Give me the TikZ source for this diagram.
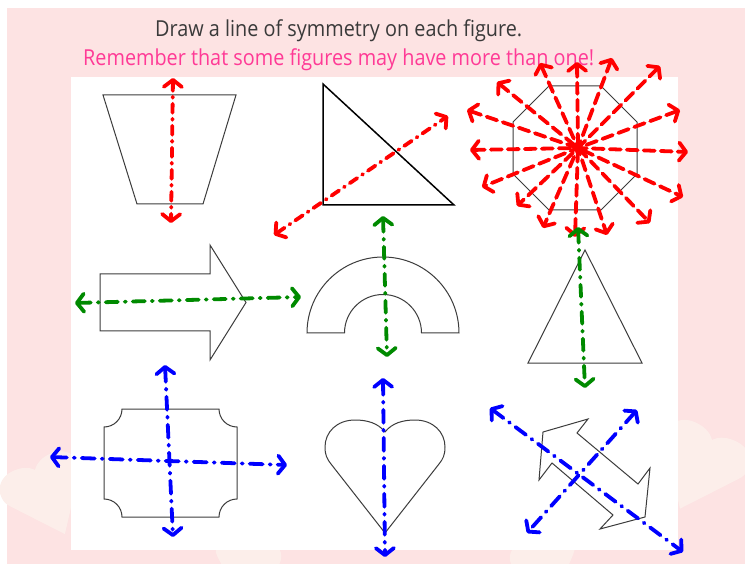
\documentclass[tikz,border=0pt]{standalone}
\usepackage{graphicx}
\usepackage{fontspec}
\setmainfont{Open Sans}
\usetikzlibrary{arrows.meta}
\definecolor{bgpink}{HTML}{FDE3E3}
\definecolor{bgheart}{HTML}{FCEEEA}
\definecolor{titlegray}{HTML}{3A3A3A}
\definecolor{hotpink}{HTML}{FF3A96}
\definecolor{figline}{HTML}{3C3C3C}
\definecolor{symred}{HTML}{FF0000}
\definecolor{symgreen}{HTML}{008A00}
\definecolor{symblue}{HTML}{0000FF}
\tikzset{
  figshape/.style={draw=figline, line width=1pt, line join=miter},
  symline/.style={line width=3.8pt, line cap=round, line join=round,
    >={Straight Barb[round,length=7pt,width=18pt]}, <->},
  redsym/.style={symline, draw=symred, dash pattern=on 9pt off 6pt on 1pt off 6pt},
  greensym/.style={symline, draw=symgreen, dash pattern=on 12pt off 7pt on 1pt off 7pt},
  bluesym/.style={symline, draw=symblue, dash pattern=on 13pt off 7pt on 1pt off 7pt},
  heartpic/.pic={
    \path[pic actions] (0,0) .. controls (-7,-9) and (-18,-12) .. (-30,-12)
      .. controls (-48,-12) and (-60,0) .. (-60,15)
      .. controls (-60,23) and (-58,27) .. (-54,32) -- (0,101) -- (54,32)
      .. controls (58,27) and (60,23) .. (60,15)
      .. controls (60,0) and (48,-12) .. (30,-12)
      .. controls (18,-12) and (7,-9) .. (0,0) -- cycle;
  }
}
\begin{document}
\begin{tikzpicture}[x=1pt,y=-1pt]
\useasboundingbox (0,0) rectangle (745,564);
% backgrounds
\fill[bgpink] (7,8) rectangle (745,564);
\pic[fill=bgheart, scale=0.75, rotate=-25] at (712,440) {heartpic};
\pic[fill=bgheart, scale=0.7, rotate=25] at (35,470) {heartpic};
\pic[fill=bgheart, scale=0.55, rotate=-10] at (250,545) {heartpic};
\pic[fill=bgheart, scale=0.55, rotate=15] at (540,545) {heartpic};
\fill[white] (71,77) rectangle (678,550);
% texts
\node[anchor=base west, text=titlegray, inner sep=0pt] (title) at (155,36.7)
  {\resizebox{367pt}{\height}{\fontsize{22pt}{26pt}\selectfont Draw a line of symmetry on each figure.}};
\node[anchor=base west, text=hotpink, inner sep=0pt] (remark) at (83,65.7)
  {\resizebox{511pt}{\height}{\fontsize{22pt}{26pt}\selectfont Remember that some figures may have more than one!}};
% figure 1: trapezoid
\draw[figshape] (103,95) -- (236,95) -- (203,204) -- (137,204) -- cycle;
% figure 2: right triangle
\draw[draw=black, line width=1.5pt, line join=miter] (323,84) -- (454,205) -- (323,205) -- cycle;
% figure 3: octagon
\draw[figshape] (549,86) -- (601,86) -- (637,122) -- (637,174) -- (601,210) -- (549,210) -- (513,174) -- (513,122) -- cycle;
% figure 4: arrow
\draw[figshape] (100,274) -- (210,274) -- (210,245) -- (246,302.5) -- (210,360) -- (210,331) -- (100,331) -- cycle;
% figure 5: arch
\draw[figshape] (307,333) arc[start angle=180, end angle=360, radius=76] -- (421.5,333)
  arc[start angle=0, end angle=-180, radius=38.5] -- cycle;
% figure 6: isosceles triangle
\draw[figshape] (585,250) -- (642,363) -- (528,363) -- cycle;
% figure 7: notched rectangle
\draw[figshape] (122,409) -- (219,409) arc[start angle=180, end angle=90, radius=18]
  -- (237,499) arc[start angle=-90, end angle=-180, radius=18]
  -- (122,517) arc[start angle=0, end angle=-90, radius=18]
  -- (104,427) arc[start angle=90, end angle=0, radius=18] -- cycle;
% figure 8: heart
\pic[figshape] at (385,432) {heartpic};
% figure 9: double arrow
\draw[figshape] (543,432) -- (588,419) -- (577,433) -- (638,484) -- (650,468) -- (645,517)
  -- (600,529) -- (613,515) -- (552,463) -- (539,480) -- cycle;
% symmetry lines: red
\coordinate (r1a) at (173,78); \coordinate (r1b) at (171,223);
\draw[redsym] (r1a) -- (r1b);
\coordinate (r2a) at (274,235); \coordinate (r2b) at (448,116);
\draw[redsym] (r2a) -- (r2b);
\coordinate (oc) at (578,148);
\foreach \ax/\ay/\bx/\by [count=\i] in {540/63/607/235, 577/62/575/237, 612/58/543/228,
  660/66/517/206, 497/82/650/223, 467/110/683/197, 680/110/482/187, 470/150/688/152}{
  \coordinate (oa\i) at (\ax,\ay); \coordinate (ob\i) at (\bx,\by);
  \draw[redsym, dash pattern=on 11pt off 6pt] (oa\i) -- (oc) -- (ob\i);
}
% green
\coordinate (g1a) at (75,303); \coordinate (g1b) at (301,297);
\draw[greensym] (g1a) -- (g1b);
\coordinate (g2a) at (383,216); \coordinate (g2b) at (387,357);
\draw[greensym] (g2a) -- (g2b);
\coordinate (g3a) at (578,227); \coordinate (g3b) at (585,388);
\draw[greensym] (g3a) -- (g3b);
% blue
\coordinate (b1a) at (50,457); \coordinate (b1b) at (287,465);
\draw[bluesym] (b1a) -- (b1b);
\coordinate (b2a) at (165,365); \coordinate (b2b) at (173,537);
\draw[bluesym] (b2a) -- (b2b);
\coordinate (b3a) at (383,378); \coordinate (b3b) at (385,557);
\draw[bluesym] (b3a) -- (b3b);
\coordinate (b4a) at (490,408); \coordinate (b4b) at (683,552);
\draw[bluesym] (b4a) -- (b4b);
\coordinate (b5a) at (637,410); \coordinate (b5b) at (527,533);
\draw[bluesym] (b5a) -- (b5b);
\end{tikzpicture}
\end{document}
